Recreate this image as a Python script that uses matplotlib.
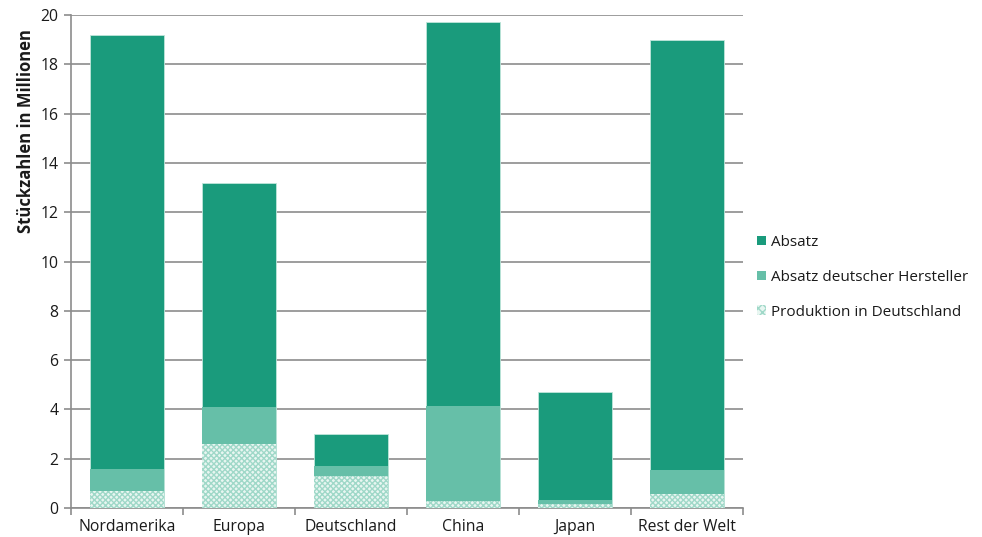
import matplotlib
matplotlib.use("Agg")
import matplotlib.pyplot as plt
from matplotlib.patches import Patch
import numpy as np

plt.rcParams['font.family'] = ['Open Sans', 'DejaVu Sans']
plt.rcParams['hatch.linewidth'] = 1.0

regions = ["Nordamerika", "Europa", "Deutschland", "China", "Japan", "Rest der Welt"]
absatz = [19.2, 13.2, 3.0, 19.7, 4.7, 19.0]
absatz_dt_hersteller = [1.6, 4.1, 1.7, 4.15, 0.33, 1.55]
produktion_dt = [0.7, 2.6, 1.3, 0.28, 0.15, 0.55]
yticks = [0, 2, 4, 6, 8, 10, 12, 14, 16, 18, 20]

c_dark = "#1a9b7c"
c_light = "#66bfa8"
c_hatch = "#9fd8c8"

fig = plt.figure(figsize=(9.82, 5.37), dpi=100)
ax = fig.add_axes([0.0723, 0.054, 0.6843, 0.918])

x = np.arange(len(regions))
w = 0.66
ax.bar(x, absatz, w, color=c_dark, edgecolor="#bfe6da", linewidth=0.6, zorder=3)
ax.bar(x, absatz_dt_hersteller, w, color=c_light, linewidth=0, zorder=4)
ax.bar(x, produktion_dt, w, color="#e8f6f1", edgecolor=c_hatch, hatch="xxxxxx",
       linewidth=0, zorder=5)

ax.set_xlim(-0.5, len(regions) - 0.5)
ax.set_ylim(0, 20)
ax.set_yticks(yticks)
ax.set_yticklabels([str(v) for v in yticks])
ax.yaxis.grid(True, color="#8c8c8c", linewidth=1.2, zorder=0)
ax.set_axisbelow(True)

ax.set_xticks(x)
ax.set_xticklabels(regions, fontsize=11.3)
ax.set_xticks(np.arange(-0.5, len(regions) + 0.5, 1), minor=True)
ax.tick_params(axis="x", which="major", length=0, pad=8, colors="#1a1a1a")
ax.tick_params(axis="x", which="minor", length=5, width=1.2, color="#8c8c8c")
ax.tick_params(axis="y", length=5, width=1.2, color="#8c8c8c", labelsize=11.3,
               labelcolor="#1a1a1a", pad=4)

for s in ["top", "right"]:
    ax.spines[s].set_visible(False)
for s in ["left", "bottom"]:
    ax.spines[s].set_color("#8c8c8c")
    ax.spines[s].set_linewidth(1.2)

ax.set_ylabel("Stückzahlen in Millionen", fontsize=12, fontweight="bold",
              color="#1a1a1a")
ax.yaxis.set_label_coords(-0.054, 0.765)

handles = [
    Patch(facecolor=c_dark, edgecolor="none", label="Absatz"),
    Patch(facecolor=c_light, edgecolor="none", label="Absatz deutscher Hersteller"),
    Patch(facecolor="#e8f6f1", edgecolor=c_hatch, hatch="xxxx", linewidth=0,
          label="Produktion in Deutschland"),
]
fig.legend(handles=handles, loc="upper left", bbox_to_anchor=(0.757, 0.588),
           frameon=False, fontsize=11, handlelength=0.6, handleheight=0.6,
           handletextpad=0.3, labelspacing=1.3, labelcolor="#1a1a1a")

fig.savefig("out.png", dpi=100)
